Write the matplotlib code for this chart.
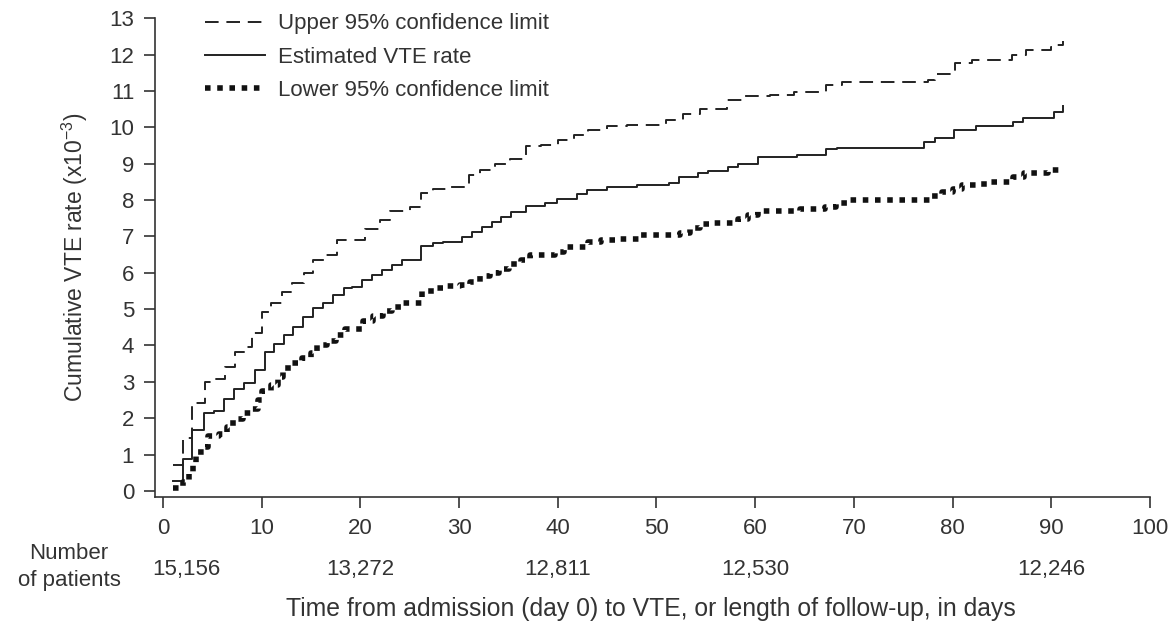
import matplotlib
matplotlib.use("Agg")
import matplotlib.pyplot as plt

# step data (day of step, cumulative VTE rate x10^-3)
est_days = [1.0, 2.0, 3.0, 4.2, 5.2, 6.2, 7.2, 8.2, 9.3, 10.3, 11.3, 12.3, 13.2, 14.2,
            15.2, 16.2, 17.2, 18.3, 19.2, 20.2, 21.2, 22.2, 23.2, 24.2, 26.2, 27.4,
            28.4, 30.3, 31.3, 32.3, 33.3, 34.3, 35.3, 36.8, 38.7, 39.9, 42.0, 43.0,
            45.0, 48.0, 51.3, 52.3, 54.2, 55.2, 57.3, 58.3, 60.3, 64.2, 67.2, 68.3,
            77.1, 78.2, 80.1, 82.4, 86.1, 87.1, 90.3, 91.2]
est_vals = [0.27, 0.87, 1.67, 2.15, 2.2, 2.52, 2.8, 2.97, 3.33, 3.81, 4.04, 4.3, 4.51, 4.77,
            5.03, 5.18, 5.38, 5.57, 5.62, 5.81, 5.95, 6.07, 6.22, 6.36, 6.73, 6.82,
            6.85, 6.99, 7.13, 7.26, 7.40, 7.54, 7.67, 7.83, 7.92, 8.04, 8.16, 8.27,
            8.36, 8.41, 8.47, 8.63, 8.74, 8.80, 8.91, 9.0, 9.18, 9.23, 9.39, 9.44,
            9.60, 9.71, 9.92, 10.03, 10.15, 10.26, 10.42, 10.58]

upper_days = [1.0, 2.0, 2.9, 4.3, 5.3, 6.3, 7.3, 8.3, 9.0, 10.0, 11.0, 12.1, 13.1, 14.3,
              15.2, 16.5, 17.6, 20.5, 22.0, 23.0, 25.0, 26.2, 27.4, 29.0, 31.0, 32.1,
              33.6, 35.2, 36.8, 38.3, 40.0, 41.6, 43.1, 45.0, 47.0, 51.0, 52.7, 54.4,
              56.2, 57.2, 58.8, 61.5, 63.9, 67.2, 68.8, 77.5, 78.2, 80.2, 82.0, 86.0,
              87.4, 90.0, 90.5, 91.2]
upper_vals = [0.72, 1.45, 2.41, 3.0, 3.07, 3.4, 3.82, 3.97, 4.35, 4.93, 5.18, 5.47, 5.72, 5.99,
              6.34, 6.48, 6.9, 7.2, 7.46, 7.70, 7.81, 8.2, 8.31, 8.36, 8.68, 8.82,
              9.0, 9.14, 9.48, 9.51, 9.64, 9.78, 9.92, 10.03, 10.06, 10.19, 10.36, 10.49,
              10.51, 10.74, 10.85, 10.88, 10.97, 11.15, 11.24, 11.31, 11.47, 11.76, 11.85, 11.98,
              12.12, 12.21, 12.25, 12.37]

lower_days = [1.0, 2.0, 2.6, 3.1, 3.4, 4.2, 4.6, 5.7, 6.5, 7.1, 8.1, 9.0, 9.6, 10.0, 11.0,
              11.7, 12.2, 13.1, 14.1, 15.0, 15.6, 16.6, 17.5, 18.4, 20.3, 21.3, 22.3,
              23.2, 24.3, 26.3, 27.6, 28.6, 30.1, 31.1, 32.1, 33.1, 34.1, 35.1, 36.3,
              37.2, 39.7, 40.6, 43.1, 44.4, 45.8, 47.1, 48.3, 52.4, 53.4, 54.4, 55.8,
              58.3, 59.3, 60.3, 64.5, 67.1, 68.2, 69.4, 77.9, 78.9, 80.0, 81.0, 82.4,
              83.5, 86.1, 87.2, 89.7, 91.2]
lower_vals = [0.09, 0.23, 0.49, 0.76, 1.08, 1.22, 1.5, 1.57, 1.77, 1.98, 2.14, 2.25, 2.5, 2.76, 2.92,
              3.12, 3.38, 3.51, 3.65, 3.79, 4.0, 4.13, 4.29, 4.44, 4.66, 4.82, 4.94,
              5.06, 5.17, 5.5, 5.59, 5.63, 5.66, 5.75, 5.91, 6.0, 6.1, 6.24, 6.35,
              6.48, 6.57, 6.71, 6.85, 6.89, 6.92, 6.94, 7.03, 7.1, 7.22, 7.34, 7.38,
              7.49, 7.6, 7.69, 7.76, 7.81, 7.92, 8.0, 8.1, 8.22, 8.29, 8.41, 8.45,
              8.5, 8.62, 8.73, 8.83, 8.83]

# number at risk row
risk_pos = [2.4, 20, 40, 60, 90]
risk_labels = ["15,156", "13,272", "12,811", "12,530", "12,246"]

ink = "#333333"
plt.rcParams["font.family"] = ["Liberation Sans", "DejaVu Sans"]
plt.rcParams["mathtext.default"] = "regular"
fs = 16

fig = plt.figure(figsize=(11.75, 6.26), dpi=100)
ax = fig.add_axes([0.1319, 0.206, 0.8468, 0.765])

ax.step(upper_days, upper_vals, where="post", color="#222222", lw=1.4,
        linestyle=(0, (7, 4)), label="Upper 95% confidence limit")
ax.step(est_days, est_vals, where="post", color="#222222", lw=1.4,
        label="Estimated VTE rate")
ax.step(lower_days, lower_vals, where="post", color="#111111", lw=4,
        linestyle=(0, (1, 1.2)), label="Lower 95% confidence limit")

ax.set_xlim(-0.8, 100)
ax.set_ylim(-0.17, 13)
ax.set_xticks(range(0, 101, 10))
ax.set_yticks(range(0, 14))
ax.spines["top"].set_visible(False)
ax.spines["right"].set_visible(False)
for s in ["left", "bottom"]:
    ax.spines[s].set_color(ink)
    ax.spines[s].set_linewidth(1.2)
ax.tick_params(axis="both", colors=ink, labelsize=fs, width=1.2, length=8, pad=7)

ax.set_ylabel("Cumulative VTE rate (x10$^{-3}$)", fontsize=fs + 0.5, color=ink, labelpad=14)

# x label and number of patients row placed in figure pixels
fig.text(651 / 1175, 1 - 609 / 626,
         "Time from admission (day 0) to VTE, or length of follow-up, in days",
         ha="center", va="center", fontsize=17.8, color=ink)
for xp, lab in zip(risk_pos, risk_labels):
    ax.text(xp, -2.17, lab, ha="center", va="center", fontsize=fs, color=ink)
fig.text(69 / 1175, 1 - 567 / 626, "Number\nof patients", ha="center", va="center",
         fontsize=fs, color=ink, linespacing=1.35)

leg = ax.legend(loc="upper left", bbox_to_anchor=(0.05, 1.01), frameon=False,
                fontsize=fs, handlelength=2.7, handletextpad=0.6, labelspacing=0.55,
                borderaxespad=0, borderpad=0)
for t in leg.get_texts():
    t.set_color(ink)

fig.savefig("out.png", dpi=100)
